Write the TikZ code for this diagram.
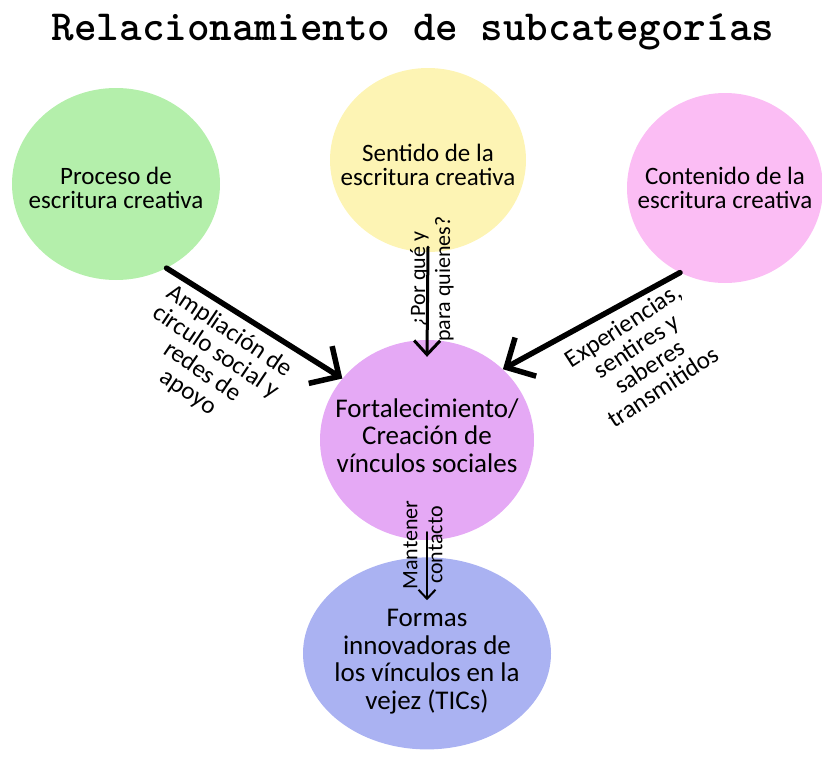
\documentclass[tikz,border=0pt]{standalone}
\usepackage{fontspec}
\setmainfont{Carlito}
\usepackage{tikz}
\usetikzlibrary{arrows.meta,shapes,positioning}

\definecolor{verde}{HTML}{B4EFAB}
\definecolor{amarillo}{HTML}{FDF4B4}
\definecolor{rosa}{HTML}{FBBDF4}
\definecolor{lila}{HTML}{E5A9F5}
\definecolor{azul}{HTML}{AAB2F2}

\begin{document}
\begin{tikzpicture}[
        x=1pt, y=-1pt,
        blob/.style={ellipse, draw=none, inner sep=0pt},
        circtext/.style={align=center, font=\fontsize{25}{23.5}\selectfont},
        bigtext/.style={align=center, font=\fontsize{27}{27.5}\selectfont},
        edgetext/.style={align=center, font=\fontsize{25}{24.5}\selectfont},
        thinedgetext/.style={align=center, font=\fontsize{22}{25}\selectfont},
        fatarrow/.style={line width=5.5pt, line cap=round, -{Straight Barb[length=22pt,width=44pt]}},
        midarrow/.style={line width=3pt, line cap=round, -{Straight Barb[length=14pt,width=26pt]}},
        slimarrow/.style={line width=2pt, line cap=round, -{Straight Barb[length=9pt,width=17pt]}}
    ]
    \useasboundingbox (0,0) rectangle (822,758);

    % Title
    \node (title) [anchor=base, font=\fontsize{43}{43}\ttfamily\bfseries] at (413,40) {Relacionamiento de subcategorías};

    % Nodes
    \node (proceso)[blob, fill=verde, minimum width=208pt, minimum height=192pt,
        label={[circtext, yshift=-4pt]center:Proceso de\\escritura creativa}] at (116,184) {};
    \node (sentido)[blob, fill=amarillo, minimum width=196pt, minimum height=184pt,
        label={[circtext, yshift=-5pt]center:Sentido de la\\escritura creativa}] at (428,160) {};
    \node (contenido)[blob, fill=rosa, minimum width=196pt, minimum height=190pt,
        label={[circtext]center:Contenido de la\\escritura creativa}] at (725,188) {};
    \node (vinculos)[blob, fill=lila, minimum width=214pt, minimum height=200pt,
        label={[bigtext, yshift=4.5pt]center:Fortalecimiento/\\Creación de\\vínculos sociales}] at (427,440) {};
    \node (formas)[blob, fill=azul, minimum width=248pt, minimum height=192pt, below=17pt of vinculos,
        label={[bigtext, yshift=-8pt]center:Formas\\innovadoras de\\los vínculos en la\\vejez (TICs)}] {};

    % Edges
    \draw[fatarrow] (proceso.-59) -- (vinculos.144);
    \draw[midarrow] ([yshift=5pt]sentido.south) -- ([yshift=-17pt]vinculos.north);
    \draw[fatarrow] (contenido.-118) -- (vinculos.43);
    \draw[slimarrow] ([yshift=8pt]vinculos.south) -- ([yshift=-43pt]formas.north);

    % Edge labels
    \node (lblampl)[edgetext, rotate=-34] at (209,362) {Ampliación de\\circulo social y\\redes de\\apoyo};
    \node (lblpor)[thinedgetext, rotate=90] at (432,279) {¿Por qué y\\para quienes?};
    \node (lblexp)[edgetext, rotate=33] at (643,356) {Experiencias,\\sentires y\\saberes\\transmitidos};
    \node (lblman)[thinedgetext, rotate=90] at (423,545) {Mantener\\contacto};

\end{tikzpicture}
\end{document}
